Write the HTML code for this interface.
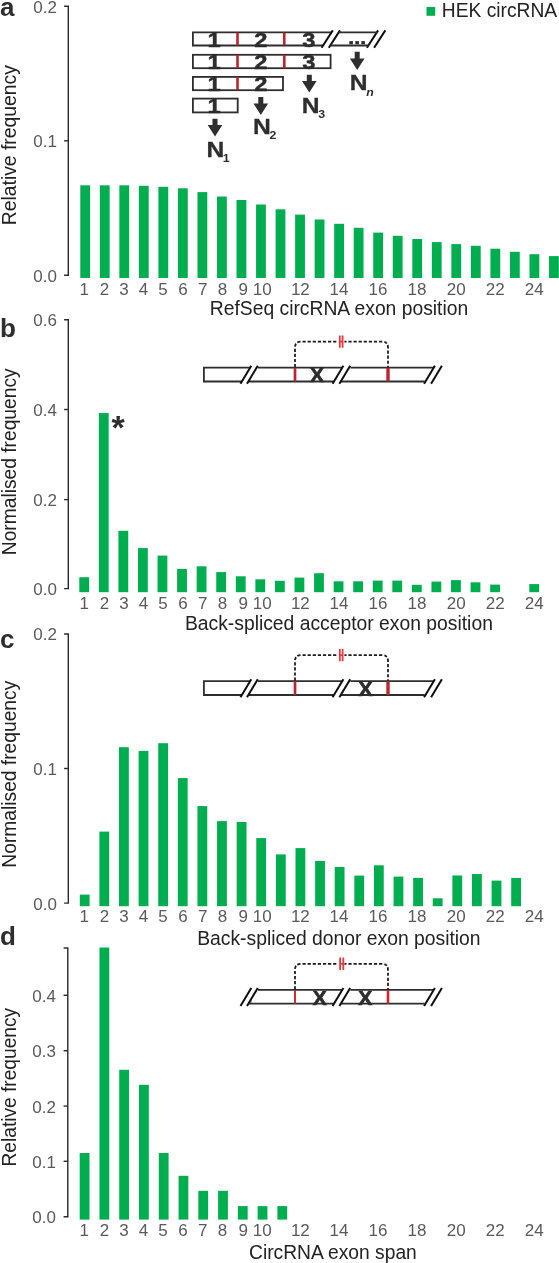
<!DOCTYPE html>
<html lang="en">
<head>
<meta charset="utf-8">
<title>circRNA exon position figure</title>
<style>
html,body{margin:0;padding:0;background:#fff;}
svg{display:block;}
</style>
</head>
<body>
<svg width="559" height="1263" viewBox="0 0 559 1263">
<defs><filter id="soft" x="0" y="0" width="559" height="1263" filterUnits="userSpaceOnUse"><feGaussianBlur stdDeviation="0.45"/></filter></defs>
<rect width="559" height="1263" fill="#fff"/>
<g filter="url(#soft)">
<text x="0" y="16" font-family="Liberation Sans, Arial, Helvetica, sans-serif" font-size="26" font-weight="bold" fill="#2d2d2d">a</text>
<path d="M64.10 6.30H68.30V275.20H64.10" fill="none" stroke="#2b2b2b" stroke-width="1.4"/>
<path d="M64.10 140.80H68.30" stroke="#2b2b2b" stroke-width="1.4"/>
<text x="57.0" y="12.70" font-family="Liberation Sans, Arial, Helvetica, sans-serif" font-size="17" fill="#5a5a5a" text-anchor="end">0.2</text>
<text x="57.0" y="147.20" font-family="Liberation Sans, Arial, Helvetica, sans-serif" font-size="17" fill="#5a5a5a" text-anchor="end">0.1</text>
<text x="57.0" y="281.60" font-family="Liberation Sans, Arial, Helvetica, sans-serif" font-size="17" fill="#5a5a5a" text-anchor="end">0.0</text>
<rect x="80.30" y="185.30" width="9.8" height="92.70" fill="#06AD50"/>
<rect x="99.83" y="185.30" width="9.8" height="92.70" fill="#06AD50"/>
<rect x="119.36" y="185.30" width="9.8" height="92.70" fill="#06AD50"/>
<rect x="138.89" y="185.80" width="9.8" height="92.20" fill="#06AD50"/>
<rect x="158.42" y="186.80" width="9.8" height="91.20" fill="#06AD50"/>
<rect x="177.95" y="188.30" width="9.8" height="89.70" fill="#06AD50"/>
<rect x="197.48" y="192.10" width="9.8" height="85.90" fill="#06AD50"/>
<rect x="217.01" y="196.50" width="9.8" height="81.50" fill="#06AD50"/>
<rect x="236.54" y="200.00" width="9.8" height="78.00" fill="#06AD50"/>
<rect x="256.07" y="204.50" width="9.8" height="73.50" fill="#06AD50"/>
<rect x="275.60" y="209.30" width="9.8" height="68.70" fill="#06AD50"/>
<rect x="295.13" y="214.60" width="9.8" height="63.40" fill="#06AD50"/>
<rect x="314.66" y="219.50" width="9.8" height="58.50" fill="#06AD50"/>
<rect x="334.19" y="223.80" width="9.8" height="54.20" fill="#06AD50"/>
<rect x="353.72" y="227.80" width="9.8" height="50.20" fill="#06AD50"/>
<rect x="373.25" y="232.60" width="9.8" height="45.40" fill="#06AD50"/>
<rect x="392.78" y="235.80" width="9.8" height="42.20" fill="#06AD50"/>
<rect x="412.31" y="239.00" width="9.8" height="39.00" fill="#06AD50"/>
<rect x="431.84" y="242.10" width="9.8" height="35.90" fill="#06AD50"/>
<rect x="451.37" y="244.10" width="9.8" height="33.90" fill="#06AD50"/>
<rect x="470.90" y="245.80" width="9.8" height="32.20" fill="#06AD50"/>
<rect x="490.43" y="248.70" width="9.8" height="29.30" fill="#06AD50"/>
<rect x="509.96" y="251.80" width="9.8" height="26.20" fill="#06AD50"/>
<rect x="529.49" y="254.20" width="9.8" height="23.80" fill="#06AD50"/>
<rect x="549.02" y="256.10" width="9.8" height="21.90" fill="#06AD50"/>
<text x="84.30" y="294.50" font-family="Liberation Sans, Arial, Helvetica, sans-serif" font-size="17" fill="#5a5a5a" text-anchor="middle">1</text>
<text x="104.44" y="294.50" font-family="Liberation Sans, Arial, Helvetica, sans-serif" font-size="17" fill="#5a5a5a" text-anchor="middle">2</text>
<text x="123.98" y="294.50" font-family="Liberation Sans, Arial, Helvetica, sans-serif" font-size="17" fill="#5a5a5a" text-anchor="middle">3</text>
<text x="143.52" y="294.50" font-family="Liberation Sans, Arial, Helvetica, sans-serif" font-size="17" fill="#5a5a5a" text-anchor="middle">4</text>
<text x="163.06" y="294.50" font-family="Liberation Sans, Arial, Helvetica, sans-serif" font-size="17" fill="#5a5a5a" text-anchor="middle">5</text>
<text x="183.10" y="294.50" font-family="Liberation Sans, Arial, Helvetica, sans-serif" font-size="17" fill="#5a5a5a" text-anchor="middle">6</text>
<text x="202.84" y="294.50" font-family="Liberation Sans, Arial, Helvetica, sans-serif" font-size="17" fill="#5a5a5a" text-anchor="middle">7</text>
<text x="222.58" y="294.50" font-family="Liberation Sans, Arial, Helvetica, sans-serif" font-size="17" fill="#5a5a5a" text-anchor="middle">8</text>
<text x="243.12" y="294.50" font-family="Liberation Sans, Arial, Helvetica, sans-serif" font-size="17" fill="#5a5a5a" text-anchor="middle">9</text>
<text x="262.16" y="294.50" font-family="Liberation Sans, Arial, Helvetica, sans-serif" font-size="17" fill="#5a5a5a" text-anchor="middle">10</text>
<text x="300.34" y="294.50" font-family="Liberation Sans, Arial, Helvetica, sans-serif" font-size="17" fill="#5a5a5a" text-anchor="middle">12</text>
<text x="338.92" y="294.50" font-family="Liberation Sans, Arial, Helvetica, sans-serif" font-size="17" fill="#5a5a5a" text-anchor="middle">14</text>
<text x="378.00" y="294.50" font-family="Liberation Sans, Arial, Helvetica, sans-serif" font-size="17" fill="#5a5a5a" text-anchor="middle">16</text>
<text x="417.08" y="294.50" font-family="Liberation Sans, Arial, Helvetica, sans-serif" font-size="17" fill="#5a5a5a" text-anchor="middle">18</text>
<text x="456.16" y="294.50" font-family="Liberation Sans, Arial, Helvetica, sans-serif" font-size="17" fill="#5a5a5a" text-anchor="middle">20</text>
<text x="495.24" y="294.50" font-family="Liberation Sans, Arial, Helvetica, sans-serif" font-size="17" fill="#5a5a5a" text-anchor="middle">22</text>
<text x="534.32" y="294.50" font-family="Liberation Sans, Arial, Helvetica, sans-serif" font-size="17" fill="#5a5a5a" text-anchor="middle">24</text>
<text x="209.8" y="314.5" font-family="Liberation Sans, Arial, Helvetica, sans-serif" font-size="19.3" fill="#222222" textLength="258.4" lengthAdjust="spacingAndGlyphs">RefSeq circRNA exon position</text>
<text transform="translate(15.8 225.2) rotate(-90)" font-family="Liberation Sans, Arial, Helvetica, sans-serif" font-size="19.3" fill="#222222" textLength="160.0" lengthAdjust="spacingAndGlyphs">Relative frequency</text>
<rect x="426.5" y="7" width="8.7" height="8.8" fill="#06AD50"/>
<text x="441.8" y="17.3" font-family="Liberation Sans, Arial, Helvetica, sans-serif" font-size="19.3" fill="#222222" textLength="115.4" lengthAdjust="spacingAndGlyphs">HEK circRNA</text>
<path d="M331.5 32.3H192.9V45.5H323" fill="none" stroke="#2d2d2d" stroke-width="1.8"/>
<rect x="192.9" y="54.8" width="137.70000000000002" height="13.400000000000006" fill="none" stroke="#2d2d2d" stroke-width="1.8"/>
<rect x="192.9" y="76.9" width="90.1" height="13.299999999999997" fill="none" stroke="#2d2d2d" stroke-width="1.8"/>
<rect x="192.9" y="98.6" width="44.79999999999998" height="13.800000000000011" fill="none" stroke="#2d2d2d" stroke-width="1.8"/>
<path d="M332.8 30.4L321.6 47.8" stroke="#111" stroke-width="2"/>
<path d="M340.0 30.4L328.8 47.8" stroke="#111" stroke-width="2"/>
<path d="M378.1 30.4L366.9 47.8" stroke="#111" stroke-width="2"/>
<path d="M385.3 30.4L374.1 47.8" stroke="#111" stroke-width="2"/>
<path d="M339 32.3H377M330.5 45.5H368.5" stroke="#2d2d2d" stroke-width="1.8"/>
<path d="M237.5 32.6V45.3" stroke="#B8282D" stroke-width="2.6"/>
<path d="M284.3 32.6V45.3" stroke="#B8282D" stroke-width="2.6"/>
<path d="M237.5 54.8V68.2" stroke="#B8282D" stroke-width="2.6"/>
<path d="M284.3 54.8V68.2" stroke="#B8282D" stroke-width="2.6"/>
<path d="M237.5 76.9V90.2" stroke="#B8282D" stroke-width="2.6"/>
<text transform="translate(214.2 46.6) scale(1.13 1)" font-family="Liberation Sans, Arial, Helvetica, sans-serif" font-size="21" font-weight="bold" fill="#2d2d2d" stroke="#2d2d2d" stroke-width="0.45" text-anchor="middle">1</text>
<text transform="translate(214.2 68.9) scale(1.13 1)" font-family="Liberation Sans, Arial, Helvetica, sans-serif" font-size="21" font-weight="bold" fill="#2d2d2d" stroke="#2d2d2d" stroke-width="0.45" text-anchor="middle">1</text>
<text transform="translate(214.2 91.0) scale(1.13 1)" font-family="Liberation Sans, Arial, Helvetica, sans-serif" font-size="21" font-weight="bold" fill="#2d2d2d" stroke="#2d2d2d" stroke-width="0.45" text-anchor="middle">1</text>
<text transform="translate(214.2 113.2) scale(1.13 1)" font-family="Liberation Sans, Arial, Helvetica, sans-serif" font-size="21" font-weight="bold" fill="#2d2d2d" stroke="#2d2d2d" stroke-width="0.45" text-anchor="middle">1</text>
<text transform="translate(260.8 46.6) scale(1.13 1)" font-family="Liberation Sans, Arial, Helvetica, sans-serif" font-size="21" font-weight="bold" fill="#2d2d2d" stroke="#2d2d2d" stroke-width="0.45" text-anchor="middle">2</text>
<text transform="translate(260.8 68.9) scale(1.13 1)" font-family="Liberation Sans, Arial, Helvetica, sans-serif" font-size="21" font-weight="bold" fill="#2d2d2d" stroke="#2d2d2d" stroke-width="0.45" text-anchor="middle">2</text>
<text transform="translate(260.8 91.0) scale(1.13 1)" font-family="Liberation Sans, Arial, Helvetica, sans-serif" font-size="21" font-weight="bold" fill="#2d2d2d" stroke="#2d2d2d" stroke-width="0.45" text-anchor="middle">2</text>
<text transform="translate(308.8 46.6) scale(1.13 1)" font-family="Liberation Sans, Arial, Helvetica, sans-serif" font-size="21" font-weight="bold" fill="#2d2d2d" stroke="#2d2d2d" stroke-width="0.45" text-anchor="middle">3</text>
<text transform="translate(308.8 68.9) scale(1.13 1)" font-family="Liberation Sans, Arial, Helvetica, sans-serif" font-size="21" font-weight="bold" fill="#2d2d2d" stroke="#2d2d2d" stroke-width="0.45" text-anchor="middle">3</text>
<text transform="translate(357.2 43.5) scale(1.13 1)" font-family="Liberation Sans, Arial, Helvetica, sans-serif" font-size="19" font-weight="bold" fill="#2d2d2d" stroke="#2d2d2d" stroke-width="0.45" text-anchor="middle">...</text>
<path d="M212.5 118.8H217.5V125.0H222.3L215.0 136.5L207.7 125.0H212.5Z" fill="#2d2d2d"/>
<path d="M258.3 97.0H263.3V103.5H268.1L260.8 115.0L253.5 103.5H258.3Z" fill="#2d2d2d"/>
<path d="M306.8 74.8H311.8V81.1H316.6L309.3 92.6L302.0 81.1H306.8Z" fill="#2d2d2d"/>
<path d="M354.7 51.8H359.7V58.599999999999994H364.5L357.2 70.1L349.9 58.599999999999994H354.7Z" fill="#2d2d2d"/>
<text transform="translate(206.4 156.6) scale(1.12 1)" font-family="Liberation Sans, Arial, Helvetica, sans-serif" font-size="22" font-weight="bold" fill="#2d2d2d" stroke="#2d2d2d" stroke-width="0.3">N<tspan font-size="11" dy="5.1" dx="-1.2" stroke="none">1</tspan></text>
<text transform="translate(253.0 134.2) scale(1.12 1)" font-family="Liberation Sans, Arial, Helvetica, sans-serif" font-size="22" font-weight="bold" fill="#2d2d2d" stroke="#2d2d2d" stroke-width="0.3">N<tspan font-size="11" dy="5.1" dx="-1.2" stroke="none">2</tspan></text>
<text transform="translate(301.7 112.8) scale(1.12 1)" font-family="Liberation Sans, Arial, Helvetica, sans-serif" font-size="22" font-weight="bold" fill="#2d2d2d" stroke="#2d2d2d" stroke-width="0.3">N<tspan font-size="11" dy="5.1" dx="-1.2" stroke="none">3</tspan></text>
<text transform="translate(349.7 90.0) scale(1.12 1)" font-family="Liberation Sans, Arial, Helvetica, sans-serif" font-size="22" font-weight="bold" fill="#2d2d2d" stroke="#2d2d2d" stroke-width="0.3">N<tspan font-size="11" dy="5.7" dx="-1.2" stroke="none" font-style="italic">n</tspan></text>
<text x="0" y="337.3" font-family="Liberation Sans, Arial, Helvetica, sans-serif" font-size="26" font-weight="bold" fill="#2d2d2d">b</text>
<path d="M64.10 319.80H68.30V588.60H64.10" fill="none" stroke="#2b2b2b" stroke-width="1.4"/>
<path d="M64.10 409.50H68.30" stroke="#2b2b2b" stroke-width="1.4"/>
<path d="M64.10 499.60H68.30" stroke="#2b2b2b" stroke-width="1.4"/>
<text x="57.0" y="326.20" font-family="Liberation Sans, Arial, Helvetica, sans-serif" font-size="17" fill="#5a5a5a" text-anchor="end">0.6</text>
<text x="57.0" y="415.90" font-family="Liberation Sans, Arial, Helvetica, sans-serif" font-size="17" fill="#5a5a5a" text-anchor="end">0.4</text>
<text x="57.0" y="506.00" font-family="Liberation Sans, Arial, Helvetica, sans-serif" font-size="17" fill="#5a5a5a" text-anchor="end">0.2</text>
<text x="57.0" y="595.00" font-family="Liberation Sans, Arial, Helvetica, sans-serif" font-size="17" fill="#5a5a5a" text-anchor="end">0.0</text>
<rect x="79.30" y="577.20" width="9.8" height="15.00" fill="#06AD50"/>
<rect x="98.86" y="413.00" width="9.8" height="179.20" fill="#06AD50"/>
<rect x="118.43" y="530.80" width="9.8" height="61.40" fill="#06AD50"/>
<rect x="138.00" y="548.10" width="9.8" height="44.10" fill="#06AD50"/>
<rect x="157.56" y="555.60" width="9.8" height="36.60" fill="#06AD50"/>
<rect x="177.12" y="568.90" width="9.8" height="23.30" fill="#06AD50"/>
<rect x="196.69" y="566.30" width="9.8" height="25.90" fill="#06AD50"/>
<rect x="216.25" y="572.10" width="9.8" height="20.10" fill="#06AD50"/>
<rect x="235.82" y="576.30" width="9.8" height="15.90" fill="#06AD50"/>
<rect x="255.38" y="579.30" width="9.8" height="12.90" fill="#06AD50"/>
<rect x="274.95" y="580.80" width="9.8" height="11.40" fill="#06AD50"/>
<rect x="294.51" y="577.60" width="9.8" height="14.60" fill="#06AD50"/>
<rect x="314.08" y="573.20" width="9.8" height="19.00" fill="#06AD50"/>
<rect x="333.65" y="581.30" width="9.8" height="10.90" fill="#06AD50"/>
<rect x="353.21" y="581.30" width="9.8" height="10.90" fill="#06AD50"/>
<rect x="372.78" y="580.60" width="9.8" height="11.60" fill="#06AD50"/>
<rect x="392.34" y="580.60" width="9.8" height="11.60" fill="#06AD50"/>
<rect x="411.91" y="584.80" width="9.8" height="7.40" fill="#06AD50"/>
<rect x="431.47" y="581.60" width="9.8" height="10.60" fill="#06AD50"/>
<rect x="451.04" y="580.10" width="9.8" height="12.10" fill="#06AD50"/>
<rect x="470.60" y="582.30" width="9.8" height="9.90" fill="#06AD50"/>
<rect x="490.17" y="584.60" width="9.8" height="7.60" fill="#06AD50"/>
<rect x="529.29" y="584.10" width="9.8" height="8.10" fill="#06AD50"/>
<text x="84.30" y="608.70" font-family="Liberation Sans, Arial, Helvetica, sans-serif" font-size="17" fill="#5a5a5a" text-anchor="middle">1</text>
<text x="104.44" y="608.70" font-family="Liberation Sans, Arial, Helvetica, sans-serif" font-size="17" fill="#5a5a5a" text-anchor="middle">2</text>
<text x="123.98" y="608.70" font-family="Liberation Sans, Arial, Helvetica, sans-serif" font-size="17" fill="#5a5a5a" text-anchor="middle">3</text>
<text x="143.52" y="608.70" font-family="Liberation Sans, Arial, Helvetica, sans-serif" font-size="17" fill="#5a5a5a" text-anchor="middle">4</text>
<text x="163.06" y="608.70" font-family="Liberation Sans, Arial, Helvetica, sans-serif" font-size="17" fill="#5a5a5a" text-anchor="middle">5</text>
<text x="183.10" y="608.70" font-family="Liberation Sans, Arial, Helvetica, sans-serif" font-size="17" fill="#5a5a5a" text-anchor="middle">6</text>
<text x="202.84" y="608.70" font-family="Liberation Sans, Arial, Helvetica, sans-serif" font-size="17" fill="#5a5a5a" text-anchor="middle">7</text>
<text x="222.58" y="608.70" font-family="Liberation Sans, Arial, Helvetica, sans-serif" font-size="17" fill="#5a5a5a" text-anchor="middle">8</text>
<text x="243.12" y="608.70" font-family="Liberation Sans, Arial, Helvetica, sans-serif" font-size="17" fill="#5a5a5a" text-anchor="middle">9</text>
<text x="262.16" y="608.70" font-family="Liberation Sans, Arial, Helvetica, sans-serif" font-size="17" fill="#5a5a5a" text-anchor="middle">10</text>
<text x="300.34" y="608.70" font-family="Liberation Sans, Arial, Helvetica, sans-serif" font-size="17" fill="#5a5a5a" text-anchor="middle">12</text>
<text x="338.92" y="608.70" font-family="Liberation Sans, Arial, Helvetica, sans-serif" font-size="17" fill="#5a5a5a" text-anchor="middle">14</text>
<text x="378.00" y="608.70" font-family="Liberation Sans, Arial, Helvetica, sans-serif" font-size="17" fill="#5a5a5a" text-anchor="middle">16</text>
<text x="417.08" y="608.70" font-family="Liberation Sans, Arial, Helvetica, sans-serif" font-size="17" fill="#5a5a5a" text-anchor="middle">18</text>
<text x="456.16" y="608.70" font-family="Liberation Sans, Arial, Helvetica, sans-serif" font-size="17" fill="#5a5a5a" text-anchor="middle">20</text>
<text x="495.24" y="608.70" font-family="Liberation Sans, Arial, Helvetica, sans-serif" font-size="17" fill="#5a5a5a" text-anchor="middle">22</text>
<text x="534.32" y="608.70" font-family="Liberation Sans, Arial, Helvetica, sans-serif" font-size="17" fill="#5a5a5a" text-anchor="middle">24</text>
<text x="184.9" y="630.1" font-family="Liberation Sans, Arial, Helvetica, sans-serif" font-size="19.3" fill="#222222" textLength="308.0" lengthAdjust="spacingAndGlyphs">Back-spliced acceptor exon position</text>
<text transform="translate(15.6 555.25) rotate(-90)" font-family="Liberation Sans, Arial, Helvetica, sans-serif" font-size="19.3" fill="#222222" textLength="186.9" lengthAdjust="spacingAndGlyphs">Normalised frequency</text>
<text x="118" y="438.8" font-family="Liberation Sans, Arial, Helvetica, sans-serif" font-size="34" font-weight="bold" fill="#2d2d2d" text-anchor="middle">*</text>
<path d="M250 367.7H203.9V381.5H241.5" fill="none" stroke="#2d2d2d" stroke-width="1.8"/>
<path d="M258 367.7H342M248.5 381.5H333.6M350.4 367.7H434M340.8 381.5H424.6" fill="none" stroke="#2d2d2d" stroke-width="1.8"/>
<path d="M251.3 365.7L240.5 383.8" stroke="#111" stroke-width="2"/>
<path d="M257.8 365.7L247.0 383.8" stroke="#111" stroke-width="2"/>
<path d="M343.4 365.7L332.6 383.8" stroke="#111" stroke-width="2"/>
<path d="M350.2 365.7L339.4 383.8" stroke="#111" stroke-width="2"/>
<path d="M434.9 365.7L424.1 383.8" stroke="#111" stroke-width="2"/>
<path d="M441.9 365.7L431.1 383.8" stroke="#111" stroke-width="2"/>
<path d="M295 367.7V381.5" stroke="#B8282D" stroke-width="2.7"/>
<path d="M388 367.7V381.5" stroke="#B8282D" stroke-width="3.4"/>
<path d="M295 367.2V347.6Q295 341.6 301 341.6H382Q388 341.6 388 347.6V367.2" fill="none" stroke="#1c1c1c" stroke-width="1.8" stroke-dasharray="3.2 1.9"/>
<rect x="338" y="339.6" width="6.4" height="4" fill="#fff"/>
<path d="M339.8 335.40000000000003V347.8M342.6 335.40000000000003V347.8M339.8 341.6H342.6" stroke="#E8383D" stroke-width="1.8" fill="none"/>
<text x="317.0" y="382.4" font-family="Liberation Sans, Arial, Helvetica, sans-serif" font-size="21" font-weight="bold" fill="#2d2d2d" stroke="#2d2d2d" stroke-width="0.7" text-anchor="middle">X</text>
<text x="0" y="647.5" font-family="Liberation Sans, Arial, Helvetica, sans-serif" font-size="26" font-weight="bold" fill="#2d2d2d">c</text>
<path d="M64.10 634.00H68.30V903.10H64.10" fill="none" stroke="#2b2b2b" stroke-width="1.4"/>
<path d="M64.10 768.50H68.30" stroke="#2b2b2b" stroke-width="1.4"/>
<text x="57.0" y="640.40" font-family="Liberation Sans, Arial, Helvetica, sans-serif" font-size="17" fill="#5a5a5a" text-anchor="end">0.2</text>
<text x="57.0" y="774.90" font-family="Liberation Sans, Arial, Helvetica, sans-serif" font-size="17" fill="#5a5a5a" text-anchor="end">0.1</text>
<text x="57.0" y="909.50" font-family="Liberation Sans, Arial, Helvetica, sans-serif" font-size="17" fill="#5a5a5a" text-anchor="end">0.0</text>
<rect x="79.80" y="894.60" width="9.8" height="11.60" fill="#06AD50"/>
<rect x="99.41" y="831.60" width="9.8" height="74.60" fill="#06AD50"/>
<rect x="119.02" y="747.20" width="9.8" height="159.00" fill="#06AD50"/>
<rect x="138.63" y="750.90" width="9.8" height="155.30" fill="#06AD50"/>
<rect x="158.24" y="743.20" width="9.8" height="163.00" fill="#06AD50"/>
<rect x="177.85" y="778.10" width="9.8" height="128.10" fill="#06AD50"/>
<rect x="197.46" y="806.10" width="9.8" height="100.10" fill="#06AD50"/>
<rect x="217.07" y="821.10" width="9.8" height="85.10" fill="#06AD50"/>
<rect x="236.68" y="822.00" width="9.8" height="84.20" fill="#06AD50"/>
<rect x="256.29" y="838.10" width="9.8" height="68.10" fill="#06AD50"/>
<rect x="275.90" y="854.40" width="9.8" height="51.80" fill="#06AD50"/>
<rect x="295.51" y="848.10" width="9.8" height="58.10" fill="#06AD50"/>
<rect x="315.12" y="861.00" width="9.8" height="45.20" fill="#06AD50"/>
<rect x="334.73" y="867.00" width="9.8" height="39.20" fill="#06AD50"/>
<rect x="354.34" y="875.60" width="9.8" height="30.60" fill="#06AD50"/>
<rect x="373.95" y="865.30" width="9.8" height="40.90" fill="#06AD50"/>
<rect x="393.56" y="876.60" width="9.8" height="29.60" fill="#06AD50"/>
<rect x="413.17" y="877.90" width="9.8" height="28.30" fill="#06AD50"/>
<rect x="432.78" y="898.30" width="9.8" height="7.90" fill="#06AD50"/>
<rect x="452.39" y="875.50" width="9.8" height="30.70" fill="#06AD50"/>
<rect x="472.00" y="874.00" width="9.8" height="32.20" fill="#06AD50"/>
<rect x="491.61" y="880.60" width="9.8" height="25.60" fill="#06AD50"/>
<rect x="511.22" y="877.90" width="9.8" height="28.30" fill="#06AD50"/>
<text x="84.30" y="922.00" font-family="Liberation Sans, Arial, Helvetica, sans-serif" font-size="17" fill="#5a5a5a" text-anchor="middle">1</text>
<text x="104.44" y="922.00" font-family="Liberation Sans, Arial, Helvetica, sans-serif" font-size="17" fill="#5a5a5a" text-anchor="middle">2</text>
<text x="123.98" y="922.00" font-family="Liberation Sans, Arial, Helvetica, sans-serif" font-size="17" fill="#5a5a5a" text-anchor="middle">3</text>
<text x="143.52" y="922.00" font-family="Liberation Sans, Arial, Helvetica, sans-serif" font-size="17" fill="#5a5a5a" text-anchor="middle">4</text>
<text x="163.06" y="922.00" font-family="Liberation Sans, Arial, Helvetica, sans-serif" font-size="17" fill="#5a5a5a" text-anchor="middle">5</text>
<text x="183.10" y="922.00" font-family="Liberation Sans, Arial, Helvetica, sans-serif" font-size="17" fill="#5a5a5a" text-anchor="middle">6</text>
<text x="202.84" y="922.00" font-family="Liberation Sans, Arial, Helvetica, sans-serif" font-size="17" fill="#5a5a5a" text-anchor="middle">7</text>
<text x="222.58" y="922.00" font-family="Liberation Sans, Arial, Helvetica, sans-serif" font-size="17" fill="#5a5a5a" text-anchor="middle">8</text>
<text x="243.12" y="922.00" font-family="Liberation Sans, Arial, Helvetica, sans-serif" font-size="17" fill="#5a5a5a" text-anchor="middle">9</text>
<text x="262.16" y="922.00" font-family="Liberation Sans, Arial, Helvetica, sans-serif" font-size="17" fill="#5a5a5a" text-anchor="middle">10</text>
<text x="300.34" y="922.00" font-family="Liberation Sans, Arial, Helvetica, sans-serif" font-size="17" fill="#5a5a5a" text-anchor="middle">12</text>
<text x="338.92" y="922.00" font-family="Liberation Sans, Arial, Helvetica, sans-serif" font-size="17" fill="#5a5a5a" text-anchor="middle">14</text>
<text x="378.00" y="922.00" font-family="Liberation Sans, Arial, Helvetica, sans-serif" font-size="17" fill="#5a5a5a" text-anchor="middle">16</text>
<text x="417.08" y="922.00" font-family="Liberation Sans, Arial, Helvetica, sans-serif" font-size="17" fill="#5a5a5a" text-anchor="middle">18</text>
<text x="456.16" y="922.00" font-family="Liberation Sans, Arial, Helvetica, sans-serif" font-size="17" fill="#5a5a5a" text-anchor="middle">20</text>
<text x="495.24" y="922.00" font-family="Liberation Sans, Arial, Helvetica, sans-serif" font-size="17" fill="#5a5a5a" text-anchor="middle">22</text>
<text x="534.32" y="922.00" font-family="Liberation Sans, Arial, Helvetica, sans-serif" font-size="17" fill="#5a5a5a" text-anchor="middle">24</text>
<text x="197.2" y="945.3" font-family="Liberation Sans, Arial, Helvetica, sans-serif" font-size="19.3" fill="#222222" textLength="283.4" lengthAdjust="spacingAndGlyphs">Back-spliced donor exon position</text>
<text transform="translate(15.6 867.65) rotate(-90)" font-family="Liberation Sans, Arial, Helvetica, sans-serif" font-size="19.3" fill="#222222" textLength="186.9" lengthAdjust="spacingAndGlyphs">Normalised frequency</text>
<path d="M250 681.2H203.9V695.0H241.5" fill="none" stroke="#2d2d2d" stroke-width="1.8"/>
<path d="M258 681.2H342M248.5 695.0H333.6M350.4 681.2H434M340.8 695.0H424.6" fill="none" stroke="#2d2d2d" stroke-width="1.8"/>
<path d="M251.3 679.2L240.5 697.3" stroke="#111" stroke-width="2"/>
<path d="M257.8 679.2L247.0 697.3" stroke="#111" stroke-width="2"/>
<path d="M343.4 679.2L332.6 697.3" stroke="#111" stroke-width="2"/>
<path d="M350.2 679.2L339.4 697.3" stroke="#111" stroke-width="2"/>
<path d="M434.9 679.2L424.1 697.3" stroke="#111" stroke-width="2"/>
<path d="M441.9 679.2L431.1 697.3" stroke="#111" stroke-width="2"/>
<path d="M295 681.2V695.0" stroke="#B8282D" stroke-width="2.7"/>
<path d="M388 681.2V695.0" stroke="#B8282D" stroke-width="3.4"/>
<path d="M295 680.7V661.1Q295 655.1 301 655.1H382Q388 655.1 388 661.1V680.7" fill="none" stroke="#1c1c1c" stroke-width="1.8" stroke-dasharray="3.2 1.9"/>
<rect x="338" y="653.1" width="6.4" height="4" fill="#fff"/>
<path d="M339.8 648.9V661.3000000000001M342.6 648.9V661.3000000000001M339.8 655.1H342.6" stroke="#E8383D" stroke-width="1.8" fill="none"/>
<text x="365.4" y="695.9" font-family="Liberation Sans, Arial, Helvetica, sans-serif" font-size="21" font-weight="bold" fill="#2d2d2d" stroke="#2d2d2d" stroke-width="0.7" text-anchor="middle">X</text>
<text x="0" y="945.0" font-family="Liberation Sans, Arial, Helvetica, sans-serif" font-size="26" font-weight="bold" fill="#2d2d2d">d</text>
<path d="M63.60 948.00H67.80V1216.70H63.60" fill="none" stroke="#2b2b2b" stroke-width="1.4"/>
<path d="M63.60 995.30H67.80" stroke="#2b2b2b" stroke-width="1.4"/>
<path d="M63.60 1050.70H67.80" stroke="#2b2b2b" stroke-width="1.4"/>
<path d="M63.60 1106.10H67.80" stroke="#2b2b2b" stroke-width="1.4"/>
<path d="M63.60 1161.30H67.80" stroke="#2b2b2b" stroke-width="1.4"/>
<text x="56.0" y="1001.70" font-family="Liberation Sans, Arial, Helvetica, sans-serif" font-size="17" fill="#5a5a5a" text-anchor="end">0.4</text>
<text x="56.0" y="1057.10" font-family="Liberation Sans, Arial, Helvetica, sans-serif" font-size="17" fill="#5a5a5a" text-anchor="end">0.3</text>
<text x="56.0" y="1112.50" font-family="Liberation Sans, Arial, Helvetica, sans-serif" font-size="17" fill="#5a5a5a" text-anchor="end">0.2</text>
<text x="56.0" y="1167.70" font-family="Liberation Sans, Arial, Helvetica, sans-serif" font-size="17" fill="#5a5a5a" text-anchor="end">0.1</text>
<text x="56.0" y="1223.10" font-family="Liberation Sans, Arial, Helvetica, sans-serif" font-size="17" fill="#5a5a5a" text-anchor="end">0.0</text>
<rect x="79.70" y="1153.00" width="9.8" height="66.60" fill="#06AD50"/>
<rect x="99.47" y="947.50" width="9.8" height="272.10" fill="#06AD50"/>
<rect x="119.24" y="1069.80" width="9.8" height="149.80" fill="#06AD50"/>
<rect x="139.01" y="1084.80" width="9.8" height="134.80" fill="#06AD50"/>
<rect x="158.78" y="1153.00" width="9.8" height="66.60" fill="#06AD50"/>
<rect x="178.55" y="1175.80" width="9.8" height="43.80" fill="#06AD50"/>
<rect x="198.32" y="1190.80" width="9.8" height="28.80" fill="#06AD50"/>
<rect x="218.09" y="1190.80" width="9.8" height="28.80" fill="#06AD50"/>
<rect x="237.86" y="1206.10" width="9.8" height="13.50" fill="#06AD50"/>
<rect x="257.63" y="1206.10" width="9.8" height="13.50" fill="#06AD50"/>
<rect x="277.40" y="1206.10" width="9.8" height="13.50" fill="#06AD50"/>
<text x="84.30" y="1236.00" font-family="Liberation Sans, Arial, Helvetica, sans-serif" font-size="17" fill="#5a5a5a" text-anchor="middle">1</text>
<text x="104.44" y="1236.00" font-family="Liberation Sans, Arial, Helvetica, sans-serif" font-size="17" fill="#5a5a5a" text-anchor="middle">2</text>
<text x="123.98" y="1236.00" font-family="Liberation Sans, Arial, Helvetica, sans-serif" font-size="17" fill="#5a5a5a" text-anchor="middle">3</text>
<text x="143.52" y="1236.00" font-family="Liberation Sans, Arial, Helvetica, sans-serif" font-size="17" fill="#5a5a5a" text-anchor="middle">4</text>
<text x="163.06" y="1236.00" font-family="Liberation Sans, Arial, Helvetica, sans-serif" font-size="17" fill="#5a5a5a" text-anchor="middle">5</text>
<text x="183.10" y="1236.00" font-family="Liberation Sans, Arial, Helvetica, sans-serif" font-size="17" fill="#5a5a5a" text-anchor="middle">6</text>
<text x="202.84" y="1236.00" font-family="Liberation Sans, Arial, Helvetica, sans-serif" font-size="17" fill="#5a5a5a" text-anchor="middle">7</text>
<text x="222.58" y="1236.00" font-family="Liberation Sans, Arial, Helvetica, sans-serif" font-size="17" fill="#5a5a5a" text-anchor="middle">8</text>
<text x="243.12" y="1236.00" font-family="Liberation Sans, Arial, Helvetica, sans-serif" font-size="17" fill="#5a5a5a" text-anchor="middle">9</text>
<text x="262.16" y="1236.00" font-family="Liberation Sans, Arial, Helvetica, sans-serif" font-size="17" fill="#5a5a5a" text-anchor="middle">10</text>
<text x="300.34" y="1236.00" font-family="Liberation Sans, Arial, Helvetica, sans-serif" font-size="17" fill="#5a5a5a" text-anchor="middle">12</text>
<text x="338.92" y="1236.00" font-family="Liberation Sans, Arial, Helvetica, sans-serif" font-size="17" fill="#5a5a5a" text-anchor="middle">14</text>
<text x="378.00" y="1236.00" font-family="Liberation Sans, Arial, Helvetica, sans-serif" font-size="17" fill="#5a5a5a" text-anchor="middle">16</text>
<text x="417.08" y="1236.00" font-family="Liberation Sans, Arial, Helvetica, sans-serif" font-size="17" fill="#5a5a5a" text-anchor="middle">18</text>
<text x="456.16" y="1236.00" font-family="Liberation Sans, Arial, Helvetica, sans-serif" font-size="17" fill="#5a5a5a" text-anchor="middle">20</text>
<text x="495.24" y="1236.00" font-family="Liberation Sans, Arial, Helvetica, sans-serif" font-size="17" fill="#5a5a5a" text-anchor="middle">22</text>
<text x="534.32" y="1236.00" font-family="Liberation Sans, Arial, Helvetica, sans-serif" font-size="17" fill="#5a5a5a" text-anchor="middle">24</text>
<text x="249.0" y="1258.8" font-family="Liberation Sans, Arial, Helvetica, sans-serif" font-size="19.3" fill="#222222" textLength="167.8" lengthAdjust="spacingAndGlyphs">CircRNA exon span</text>
<text transform="translate(15.5 1166.5) rotate(-90)" font-family="Liberation Sans, Arial, Helvetica, sans-serif" font-size="19.3" fill="#222222" textLength="158.6" lengthAdjust="spacingAndGlyphs">Relative frequency</text>
<path d="M250.9 999.2V1003.2" stroke="#E8383D" stroke-width="1.2"/>
<path d="M258 989.9000000000001H342M248.5 1003.7H333.6M350.4 989.9000000000001H434M340.8 1003.7H424.6" fill="none" stroke="#2d2d2d" stroke-width="1.8"/>
<path d="M251.3 987.9000000000001L240.5 1006.0" stroke="#111" stroke-width="2"/>
<path d="M257.8 987.9000000000001L247.0 1006.0" stroke="#111" stroke-width="2"/>
<path d="M343.4 987.9000000000001L332.6 1006.0" stroke="#111" stroke-width="2"/>
<path d="M350.2 987.9000000000001L339.4 1006.0" stroke="#111" stroke-width="2"/>
<path d="M434.9 987.9000000000001L424.1 1006.0" stroke="#111" stroke-width="2"/>
<path d="M441.9 987.9000000000001L431.1 1006.0" stroke="#111" stroke-width="2"/>
<path d="M295 989.9000000000001V1003.7" stroke="#D0232A" stroke-width="1.9"/>
<path d="M388 989.9000000000001V1003.7" stroke="#D0232A" stroke-width="2.6"/>
<path d="M295 989.4000000000001V969.8000000000001Q295 963.8000000000001 301 963.8000000000001H382Q388 963.8000000000001 388 969.8000000000001V989.4000000000001" fill="none" stroke="#1c1c1c" stroke-width="1.8" stroke-dasharray="3.2 1.9"/>
<rect x="338" y="961.8000000000001" width="6.4" height="4" fill="#fff"/>
<path d="M340.1 957.6V970.0000000000001M343.3 957.6V970.0000000000001M340.1 963.8000000000001H343.3" stroke="#E8383D" stroke-width="1.8" fill="none"/>
<text x="319.7" y="1004.6" font-family="Liberation Sans, Arial, Helvetica, sans-serif" font-size="21" font-weight="bold" fill="#2d2d2d" stroke="#2d2d2d" stroke-width="0.7" text-anchor="middle">X</text>
<text x="365.3" y="1004.6" font-family="Liberation Sans, Arial, Helvetica, sans-serif" font-size="21" font-weight="bold" fill="#2d2d2d" stroke="#2d2d2d" stroke-width="0.7" text-anchor="middle">X</text>
</g>
</svg>
</body>
</html>
